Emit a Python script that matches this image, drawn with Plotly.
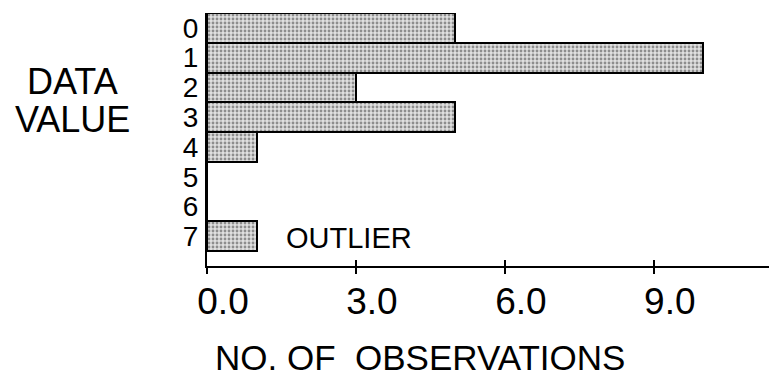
import plotly.graph_objects as go

# Frequency table: each data value and how many times it was observed
data_values = [0, 1, 2, 3, 4, 5, 6, 7]
observations = [5, 10, 3, 5, 1, 0, 0, 1]

x_tick_vals = [0, 3, 6, 9]
x_tick_text = ["0.0", "3.0", "6.0", "9.0"]

FONT = "Liberation Sans, Arial, Helvetica, sans-serif"

fig = go.Figure()
fig.add_trace(go.Bar(
    x=observations,
    y=data_values,
    orientation="h",
    width=1,
    marker=dict(
        color="#e0e0e0",
        line=dict(color="black", width=2),
        pattern=dict(shape=".", fgcolor="#3a3a3a", bgcolor="#e0e0e0",
                     size=4, solidity=0.4),
    ),
    hoverinfo="skip",
))

# Overlay axis that only draws the inward half of the crossing ticks
fig.add_trace(go.Scatter(x=[0], y=[0], xaxis="x2", yaxis="y",
                         mode="markers", marker=dict(opacity=0),
                         hoverinfo="skip", showlegend=False))

fig.update_layout(
    width=769, height=377,
    margin=dict(l=207, r=0, t=13, b=111),
    paper_bgcolor="white", plot_bgcolor="white",
    showlegend=False,
    bargap=0,
    font=dict(family=FONT, color="black"),
    xaxis=dict(
        range=[0, 11.32],
        tickvals=x_tick_vals, ticktext=x_tick_text,
        ticks="outside", ticklen=6, tickwidth=2, tickcolor="black",
        tickfont=dict(size=37),
        ticklabelshift=16,
        ticklabelstandoff=-4,
        showline=True, linecolor="black", linewidth=2,
        showgrid=False, zeroline=False,
        fixedrange=True,
    ),
    xaxis2=dict(
        range=[0, 11.32], overlaying="x", anchor="y", side="bottom",
        tickvals=x_tick_vals, showticklabels=False,
        ticks="inside", ticklen=6, tickwidth=2, tickcolor="black",
        showline=False, showgrid=False, zeroline=False,
    ),
    yaxis=dict(
        range=[8, -0.5],
        tickvals=data_values,
        ticks="", tickfont=dict(size=28),
        ticklabelstandoff=1,
        showline=True, linecolor="black", linewidth=2,
        showgrid=False, zeroline=False,
        fixedrange=True,
    ),
    annotations=[
        dict(text="OUTLIER", x=1.55, y=7, xref="x", yref="y",
             xanchor="left", yanchor="middle", yshift=-2,
             showarrow=False, font=dict(size=29)),
        dict(text="DATA", x=72, y=81, xref="paper", yref="paper",
             showarrow=False, font=dict(size=36)),
        dict(text="VALUE", x=72, y=119, xref="paper", yref="paper",
             showarrow=False, font=dict(size=36)),
        dict(text="NO. OF\u00a0 OBSERVATIONS", x=420, y=357,
             xref="paper", yref="paper",
             showarrow=False, font=dict(size=35)),
    ],
)

# Convert the pixel-placed labels above into paper coordinates
plot_left, plot_w = 207, 769 - 207
plot_bottom, plot_h = 377 - 111, 377 - 111 - 13
for ann in fig.layout.annotations:
    if ann.xref == "paper":
        ann.x = (ann.x - plot_left) / plot_w
        ann.y = (plot_bottom - ann.y) / plot_h
        ann.xanchor = "center"
        ann.yanchor = "middle"

fig.write_html("out.html")
